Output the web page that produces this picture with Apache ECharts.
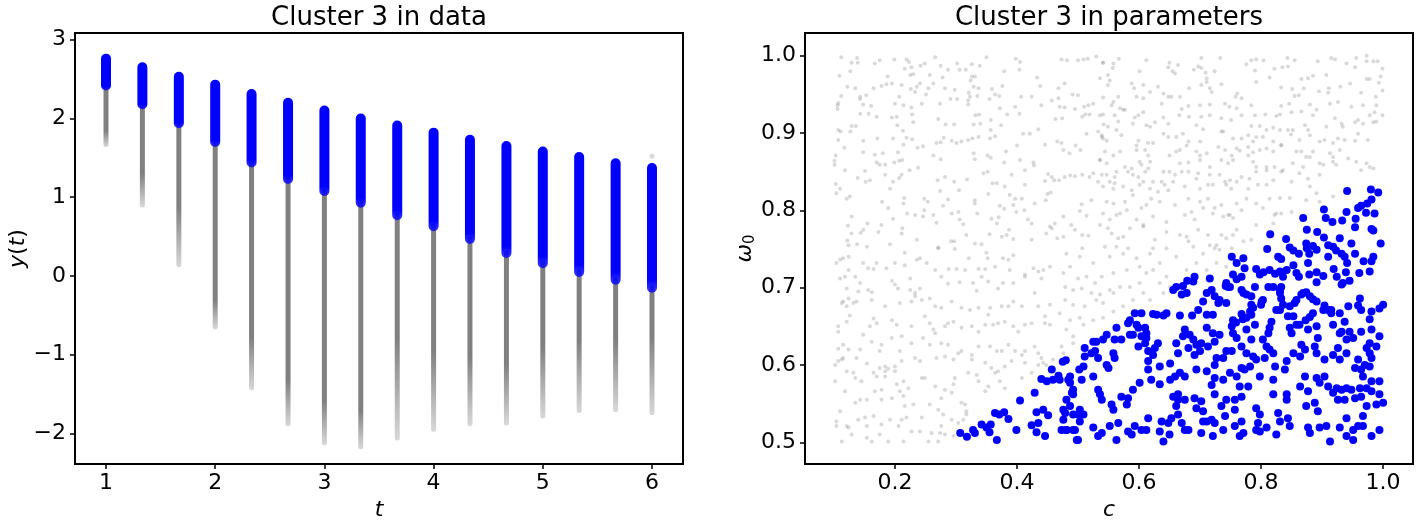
<!DOCTYPE html>
<html>
<head>
<meta charset="utf-8">
<script src="https://cdn.jsdelivr.net/npm/echarts@6/dist/echarts.min.js"></script>
<style>
  html, body { margin: 0; padding: 0; background: #fff; }
  #chart { width: 1424px; height: 526px; }
</style>
</head>
<body>
<div id="chart"></div>
<script>
// left panel: trajectories sampled at 16 time points
const tValues = [1, 1.333, 1.667, 2, 2.333, 2.667, 3, 3.333, 3.667, 4, 4.333, 4.667, 5, 5.333, 5.667, 6];
const clusterTop = [2.76, 2.65, 2.53, 2.43, 2.31, 2.20, 2.10, 2.00, 1.91, 1.82, 1.73, 1.65, 1.58, 1.51, 1.43, 1.37];
const clusterBottom = [2.42, 2.18, 1.94, 1.70, 1.44, 1.23, 1.08, 0.93, 0.77, 0.63, 0.47, 0.29, 0.16, 0.05, -0.05, -0.15];
const otherDenseEnd = [1.84, 1.30, 0.87, -0.31, -0.78, -1.33, -1.58, -1.71, -0.80, -0.95, -1.03, -1.12, -0.91, -0.82, -0.82, -0.78];
const otherMin = [1.67, 0.90, 0.14, -0.65, -1.42, -1.88, -2.12, -2.17, -2.06, -1.95, -1.88, -1.87, -1.78, -1.71, -1.70, -1.74];
const outliers = [[6, 1.52]];

const dataTicks = [1, 2, 3, 4, 5, 6];
const yTicks = [-2, -1, 0, 1, 2, 3];

// right panel: parameter space (c, omega0)
const otherParams = [
[0.112,0.998],[0.129,0.991],[0.138,0.997],[0.139,0.991],[0.167,0.990],[0.175,0.994],[0.199,0.995],[0.219,0.995],[0.223,0.992],[0.216,0.983],
[0.227,0.985],[0.242,0.987],[0.249,0.990],[0.266,0.998],[0.275,0.987],[0.287,0.982],[0.302,0.990],[0.306,0.982],[0.316,0.982],[0.326,0.989],
[0.339,0.987],[0.350,0.998],[0.379,0.980],[0.398,0.996],[0.405,0.992],[0.404,0.982],[0.433,0.972],[0.438,0.961],[0.473,0.995],[0.482,0.994],
[0.500,0.994],[0.509,0.995],[0.516,0.996],[0.530,0.999],[0.541,0.991],[0.109,0.974],[0.127,0.980],[0.188,0.973],[0.211,0.962],[0.225,0.975],
[0.230,0.976],[0.257,0.975],[0.278,0.972],[0.326,0.973],[0.331,0.973],[0.324,0.968],[0.122,0.960],[0.135,0.958],[0.165,0.958],[0.178,0.961],
[0.186,0.963],[0.195,0.964],[0.226,0.957],[0.236,0.960],[0.241,0.964],[0.255,0.958],[0.263,0.964],[0.282,0.958],[0.298,0.956],[0.329,0.960],
[0.337,0.958],[0.359,0.957],[0.376,0.961],[0.407,0.947],[0.424,0.947],[0.468,0.958],[0.478,0.964],[0.491,0.950],[0.500,0.949],[0.112,0.948],
[0.143,0.947],[0.153,0.949],[0.143,0.944],[0.207,0.947],[0.233,0.953],[0.251,0.950],[0.291,0.944],[0.302,0.944],[0.321,0.952],[0.323,0.947],
[0.320,0.942],[0.335,0.948],[0.364,0.950],[0.371,0.948],[0.107,0.939],[0.106,0.936],[0.106,0.931],[0.148,0.937],[0.161,0.935],[0.200,0.938],
[0.214,0.936],[0.227,0.933],[0.244,0.938],[0.274,0.938],[0.320,0.937],[0.355,0.944],[0.372,0.932],[0.397,0.934],[0.440,0.936],[0.457,0.942],
[0.468,0.945],[0.470,0.934],[0.478,0.933],[0.495,0.931],[0.510,0.934],[0.517,0.936],[0.525,0.938],[0.541,0.924],[0.143,0.925],[0.157,0.925],
[0.170,0.921],[0.195,0.920],[0.203,0.921],[0.228,0.924],[0.271,0.918],[0.332,0.923],[0.338,0.924],[0.357,0.917],[0.384,0.924],[0.404,0.925],
[0.463,0.918],[0.474,0.919],[0.507,0.921],[0.512,0.924],[0.519,0.924],[0.129,0.909],[0.136,0.909],[0.127,0.902],[0.107,0.904],[0.111,0.902],
[0.204,0.910],[0.213,0.903],[0.230,0.914],[0.283,0.911],[0.297,0.911],[0.329,0.911],[0.340,0.912],[0.357,0.904],[0.374,0.910],[0.410,0.899],
[0.421,0.899],[0.435,0.905],[0.514,0.899],[0.533,0.902],[0.539,0.895],[0.107,0.891],[0.148,0.890],[0.171,0.893],[0.197,0.893],[0.214,0.885],
[0.219,0.894],[0.228,0.892],[0.246,0.883],[0.268,0.887],[0.275,0.888],[0.280,0.894],[0.293,0.890],[0.301,0.887],[0.309,0.889],[0.320,0.891],
[0.327,0.893],[0.337,0.895],[0.356,0.893],[0.364,0.896],[0.400,0.884],[0.446,0.885],[0.466,0.889],[0.473,0.887],[0.476,0.878],[0.486,0.874],
[0.496,0.884],[0.504,0.878],[0.117,0.881],[0.148,0.875],[0.167,0.872],[0.180,0.874],[0.205,0.875],[0.237,0.881],[0.103,0.871],[0.101,0.864],
[0.101,0.859],[0.118,0.852],[0.139,0.842],[0.151,0.851],[0.170,0.862],[0.175,0.859],[0.184,0.859],[0.199,0.862],[0.207,0.864],[0.212,0.865],
[0.224,0.852],[0.238,0.855],[0.263,0.871],[0.275,0.866],[0.329,0.874],[0.331,0.866],[0.352,0.871],[0.357,0.868],[0.379,0.862],[0.382,0.876],
[0.405,0.865],[0.413,0.852],[0.427,0.862],[0.428,0.858],[0.451,0.847],[0.457,0.843],[0.478,0.843],[0.487,0.845],[0.495,0.844],[0.507,0.846],
[0.519,0.843],[0.525,0.848],[0.533,0.837],[0.536,0.865],[0.152,0.837],[0.159,0.839],[0.184,0.846],[0.197,0.837],[0.207,0.842],[0.211,0.846],
[0.270,0.839],[0.282,0.843],[0.297,0.837],[0.318,0.840],[0.345,0.848],[0.352,0.850],[0.360,0.835],[0.367,0.835],[0.380,0.831],[0.391,0.846],
[0.413,0.833],[0.446,0.838],[0.461,0.839],[0.469,0.839],[0.103,0.834],[0.110,0.828],[0.104,0.822],[0.121,0.815],[0.126,0.818],[0.179,0.811],
[0.192,0.828],[0.215,0.816],[0.214,0.809],[0.248,0.815],[0.254,0.811],[0.274,0.825],[0.287,0.814],[0.305,0.826],[0.331,0.813],[0.353,0.821],
[0.388,0.820],[0.397,0.815],[0.408,0.815],[0.429,0.809],[0.447,0.813],[0.450,0.821],[0.455,0.823],[0.506,0.808],[0.522,0.813],[0.129,0.792],
[0.123,0.780],[0.155,0.783],[0.178,0.781],[0.189,0.803],[0.197,0.789],[0.212,0.777],[0.220,0.796],[0.233,0.794],[0.246,0.792],[0.248,0.800],
[0.263,0.794],[0.268,0.784],[0.279,0.806],[0.293,0.796],[0.304,0.798],[0.306,0.788],[0.312,0.782],[0.331,0.809],[0.335,0.796],[0.358,0.789],
[0.367,0.783],[0.370,0.791],[0.372,0.806],[0.379,0.802],[0.383,0.768],[0.394,0.807],[0.399,0.798],[0.412,0.800],[0.418,0.788],[0.424,0.783],
[0.454,0.779],[0.462,0.783],[0.476,0.792],[0.489,0.781],[0.495,0.775],[0.503,0.799],[0.514,0.793],[0.536,0.781],[0.129,0.770],[0.144,0.771],
[0.148,0.775],[0.173,0.772],[0.211,0.770],[0.236,0.762],[0.292,0.760],[0.297,0.760],[0.317,0.768],[0.331,0.757],[0.342,0.756],[0.355,0.769],
[0.375,0.766],[0.387,0.775],[0.394,0.763],[0.424,0.762],[0.448,0.770],[0.457,0.777],[0.466,0.764],[0.476,0.766],[0.507,0.768],[0.517,0.767],
[0.122,0.761],[0.124,0.755],[0.138,0.756],[0.154,0.753],[0.192,0.756],[0.271,0.752],[0.507,0.751],
[0.541,0.991],[0.558,0.990],[0.567,0.996],[0.557,0.984],[0.549,0.975],[0.536,0.971],[0.601,0.980],[0.612,0.994],[0.650,0.991],[0.648,0.985],
[0.655,0.980],[0.659,0.977],[0.664,0.988],[0.690,0.982],[0.697,0.986],[0.702,0.984],[0.709,0.978],[0.702,0.997],[0.724,0.980],[0.733,0.997],
[0.711,0.971],[0.711,0.966],[0.735,0.963],[0.716,0.958],[0.776,0.989],[0.784,0.994],[0.792,0.995],[0.804,0.994],[0.790,0.981],[0.822,0.983],
[0.835,0.985],[0.844,0.986],[0.843,0.997],[0.855,0.994],[0.814,0.972],[0.866,0.970],[0.877,0.971],[0.885,0.974],[0.893,0.993],[0.907,0.975],
[0.915,0.997],[0.921,0.995],[0.940,0.990],[0.954,0.985],[0.956,0.997],[0.973,1.000],[0.973,0.993],[0.984,0.993],[0.991,0.993],[0.999,0.983],
[0.996,0.973],[0.993,0.965],[0.978,0.970],[0.986,0.927],[0.973,0.970],[0.552,0.968],[0.549,0.962],[0.588,0.964],[0.592,0.958],[0.607,0.962],
[0.631,0.960],[0.640,0.951],[0.653,0.947],[0.667,0.947],[0.682,0.958],[0.702,0.962],[0.719,0.953],[0.761,0.951],[0.758,0.947],[0.768,0.945],
[0.792,0.966],[0.833,0.959],[0.851,0.957],[0.862,0.949],[0.855,0.948],[0.870,0.958],[0.895,0.954],[0.911,0.958],[0.910,0.952],[0.930,0.960],
[0.946,0.964],[0.964,0.952],[0.988,0.947],[0.999,0.955],[0.541,0.946],[0.566,0.947],[0.558,0.940],[0.555,0.936],[0.569,0.932],[0.574,0.930],
[0.596,0.947],[0.607,0.945],[0.618,0.953],[0.637,0.938],[0.648,0.947],[0.670,0.931],[0.681,0.935],[0.700,0.936],[0.716,0.937],[0.741,0.938],
[0.748,0.934],[0.760,0.932],[0.784,0.936],[0.833,0.935],[0.846,0.938],[0.880,0.937],[0.891,0.930],[0.913,0.938],[0.926,0.940],[0.948,0.934],
[0.967,0.936],[0.989,0.936],[0.999,0.923],[0.536,0.923],[0.560,0.923],[0.566,0.915],[0.577,0.930],[0.599,0.923],[0.593,0.920],[0.607,0.927],
[0.626,0.914],[0.640,0.920],[0.666,0.923],[0.682,0.921],[0.702,0.921],[0.716,0.923],[0.735,0.919],[0.751,0.917],[0.768,0.923],[0.790,0.923],
[0.807,0.924],[0.825,0.922],[0.831,0.924],[0.850,0.927],[0.866,0.928],[0.885,0.923],[0.921,0.919],[0.932,0.912],[0.954,0.914],[0.959,0.917],
[0.967,0.912],[0.978,0.923],[0.989,0.915],[0.984,0.914],[0.542,0.911],[0.549,0.908],[0.563,0.904],[0.590,0.912],[0.612,0.910],[0.618,0.908],
[0.648,0.912],[0.694,0.910],[0.705,0.905],[0.735,0.902],[0.784,0.909],[0.798,0.909],[0.809,0.904],[0.820,0.907],[0.831,0.904],[0.844,0.904],
[0.852,0.904],[0.872,0.910],[0.877,0.904],[0.907,0.908],[0.934,0.908],[0.959,0.899],[0.539,0.897],[0.541,0.893],[0.547,0.890],[0.571,0.897],
[0.599,0.890],[0.596,0.884],[0.615,0.887],[0.623,0.887],[0.640,0.899],[0.648,0.895],[0.661,0.895],[0.672,0.899],[0.681,0.889],[0.700,0.889],
[0.738,0.902],[0.754,0.893],[0.768,0.893],[0.779,0.897],[0.787,0.889],[0.792,0.895],[0.803,0.895],[0.820,0.889],[0.833,0.885],[0.849,0.898],
[0.863,0.891],[0.880,0.897],[0.896,0.889],[0.904,0.891],[0.918,0.887],[0.926,0.893],[0.937,0.891],[0.954,0.890],[0.975,0.891],[0.544,0.876],
[0.558,0.871],[0.569,0.876],[0.596,0.878],[0.610,0.878],[0.615,0.871],[0.650,0.871],[0.661,0.876],[0.667,0.878],[0.678,0.884],[0.694,0.876],
[0.700,0.871],[0.711,0.874],[0.730,0.882],[0.741,0.878],[0.752,0.871],[0.760,0.880],[0.765,0.877],[0.779,0.882],[0.787,0.875],[0.798,0.878],
[0.809,0.880],[0.820,0.876],[0.833,0.884],[0.858,0.876],[0.866,0.876],[0.874,0.869],[0.885,0.876],[0.896,0.861],[0.913,0.874],[0.918,0.869],
[0.929,0.878],[0.536,0.865],[0.547,0.861],[0.577,0.856],[0.588,0.854],[0.601,0.863],[0.604,0.859],[0.615,0.854],[0.618,0.863],[0.640,0.850],
[0.650,0.850],[0.667,0.861],[0.681,0.862],[0.700,0.865],[0.716,0.856],[0.735,0.865],[0.746,0.861],[0.754,0.865],[0.779,0.871],[0.787,0.863],
[0.792,0.856],[0.809,0.856],[0.822,0.856],[0.836,0.852],[0.852,0.861],[0.869,0.856],[0.880,0.869],[0.902,0.859],[0.918,0.863],[0.923,0.859],
[0.943,0.867],[0.956,0.863],[0.973,0.861],[0.978,0.856],[0.964,0.852],[0.984,0.854],[0.539,0.846],[0.547,0.846],[0.552,0.837],[0.560,0.843],
[0.563,0.850],[0.582,0.850],[0.590,0.846],[0.599,0.843],[0.610,0.850],[0.607,0.837],[0.623,0.837],[0.637,0.837],[0.642,0.833],[0.659,0.846],
[0.670,0.850],[0.681,0.850],[0.694,0.841],[0.697,0.848],[0.716,0.846],[0.732,0.846],[0.741,0.837],[0.749,0.839],[0.760,0.837],[0.768,0.843],
[0.781,0.841],[0.792,0.850],[0.809,0.852],[0.820,0.839],[0.833,0.850],[0.850,0.837],[0.863,0.848],[0.877,0.841],[0.896,0.846],[0.541,0.831],
[0.560,0.835],[0.558,0.828],[0.574,0.831],[0.588,0.826],[0.601,0.833],[0.618,0.828],[0.631,0.824],[0.648,0.826],[0.656,0.837],[0.675,0.831],
[0.700,0.828],[0.713,0.833],[0.721,0.833],[0.743,0.833],[0.751,0.828],[0.779,0.828],[0.795,0.833],[0.809,0.833],[0.880,0.831],[0.891,0.822],
[0.547,0.811],[0.558,0.809],[0.577,0.811],[0.590,0.820],[0.604,0.803],[0.612,0.807],[0.620,0.815],[0.634,0.811],[0.659,0.807],[0.681,0.815],
[0.700,0.811],[0.713,0.815],[0.724,0.803],[0.735,0.807],[0.749,0.794],[0.760,0.809],[0.776,0.815],[0.792,0.809],[0.814,0.815],[0.831,0.816],
[0.847,0.816],[0.874,0.813],[0.896,0.811],[0.918,0.818],[0.541,0.796],[0.552,0.788],[0.563,0.794],[0.569,0.796],[0.580,0.800],[0.596,0.788],
[0.607,0.781],[0.623,0.792],[0.645,0.785],[0.675,0.794],[0.686,0.798],[0.691,0.788],[0.705,0.803],[0.721,0.796],[0.738,0.792],[0.746,0.794],
[0.754,0.790],[0.768,0.800],[0.803,0.803],[0.822,0.794],[0.833,0.796],[0.850,0.798],[0.549,0.777],[0.555,0.770],[0.566,0.764],[0.574,0.766],
[0.585,0.777],[0.607,0.779],[0.626,0.762],[0.645,0.772],[0.667,0.768],[0.678,0.766],[0.681,0.760],[0.697,0.775],[0.713,0.768],[0.727,0.755],
[0.735,0.768],[0.743,0.764],[0.754,0.768],[0.760,0.775],[0.771,0.760],[0.784,0.762],[0.544,0.753],[0.563,0.753],[0.582,0.751],[0.623,0.751],
[0.645,0.751],[0.689,0.753],[0.716,0.755],[0.724,0.751],[0.752,0.751],[0.792,0.781],[0.820,0.783],[0.825,0.796],
[0.110,0.736],[0.115,0.738],[0.124,0.740],[0.104,0.732],[0.124,0.723],[0.148,0.732],[0.156,0.725],[0.165,0.724],[0.170,0.732],[0.186,0.725],
[0.200,0.732],[0.216,0.745],[0.216,0.729],[0.236,0.736],[0.241,0.738],[0.252,0.732],[0.266,0.723],[0.271,0.751],[0.298,0.750],[0.288,0.724],
[0.301,0.724],[0.315,0.723],[0.321,0.738],[0.337,0.724],[0.348,0.724],[0.350,0.745],[0.352,0.738],[0.364,0.727],[0.377,0.738],[0.386,0.736],
[0.394,0.742],[0.388,0.723],[0.413,0.717],[0.427,0.725],[0.435,0.721],[0.443,0.723],[0.110,0.712],[0.118,0.714],[0.121,0.699],[0.135,0.714],
[0.143,0.706],[0.140,0.695],[0.156,0.697],[0.162,0.694],[0.195,0.709],[0.200,0.704],[0.205,0.699],[0.225,0.712],[0.225,0.697],[0.233,0.693],
[0.241,0.699],[0.257,0.686],[0.276,0.714],[0.287,0.705],[0.306,0.707],[0.328,0.706],[0.334,0.696],[0.342,0.714],[0.353,0.708],[0.369,0.699],
[0.377,0.706],[0.394,0.706],[0.413,0.714],[0.440,0.712],[0.454,0.727],[0.429,0.693],[0.113,0.680],[0.121,0.676],[0.124,0.686],[0.115,0.682],
[0.132,0.680],[0.137,0.682],[0.162,0.684],[0.184,0.676],[0.208,0.680],[0.227,0.682],[0.233,0.689],[0.244,0.684],[0.266,0.676],[0.276,0.674],
[0.293,0.682],[0.309,0.674],[0.323,0.671],[0.337,0.674],[0.356,0.674],[0.375,0.676],[0.386,0.676],[0.394,0.682],[0.408,0.676],[0.435,0.676],
[0.446,0.663],[0.454,0.678],[0.107,0.650],[0.107,0.643],[0.121,0.656],[0.126,0.664],[0.159,0.650],[0.165,0.660],[0.170,0.654],[0.195,0.658],
[0.203,0.652],[0.227,0.650],[0.249,0.663],[0.257,0.654],[0.263,0.646],[0.266,0.641],[0.282,0.650],[0.287,0.654],[0.296,0.656],[0.309,0.648],
[0.326,0.650],[0.337,0.643],[0.348,0.652],[0.353,0.665],[0.361,0.652],[0.369,0.654],[0.380,0.656],[0.394,0.650],[0.402,0.643],[0.413,0.652],
[0.424,0.654],[0.446,0.654],[0.454,0.652],[0.107,0.621],[0.113,0.607],[0.115,0.626],[0.124,0.620],[0.143,0.620],[0.148,0.639],[0.162,0.630],
[0.175,0.618],[0.178,0.626],[0.195,0.635],[0.211,0.637],[0.208,0.618],[0.227,0.628],[0.246,0.635],[0.257,0.626],[0.276,0.628],[0.287,0.626],
[0.304,0.615],[0.309,0.618],[0.326,0.613],[0.337,0.624],[0.356,0.624],[0.367,0.618],[0.375,0.618],[0.386,0.626],[0.397,0.618],[0.413,0.618],
[0.429,0.624],[0.435,0.615],[0.440,0.609],[0.459,0.607],[0.102,0.600],[0.107,0.605],[0.115,0.609],[0.137,0.609],[0.154,0.602],[0.175,0.596],
[0.184,0.592],[0.200,0.598],[0.211,0.605],[0.233,0.609],[0.241,0.605],[0.268,0.609],[0.282,0.611],[0.296,0.607],[0.326,0.607],[0.348,0.603],
[0.358,0.596],[0.369,0.592],[0.380,0.598],[0.391,0.605],[0.408,0.613],[0.413,0.603],[0.435,0.600],[0.443,0.603],[0.448,0.600],[0.102,0.579],
[0.118,0.566],[0.121,0.592],[0.132,0.590],[0.135,0.583],[0.145,0.579],[0.165,0.590],[0.170,0.585],[0.184,0.598],[0.189,0.595],[0.184,0.585],
[0.200,0.592],[0.214,0.579],[0.222,0.570],[0.244,0.583],[0.249,0.583],[0.266,0.572],[0.282,0.568],[0.296,0.575],[0.298,0.583],[0.320,0.590],
[0.334,0.587],[0.337,0.579],[0.353,0.572],[0.364,0.590],[0.372,0.579],[0.380,0.570],[0.408,0.583],[0.424,0.590],[0.104,0.527],[0.110,0.540],
[0.121,0.521],[0.135,0.551],[0.143,0.555],[0.154,0.555],[0.167,0.566],[0.178,0.555],[0.178,0.568],[0.195,0.557],[0.203,0.575],[0.208,0.566],
[0.214,0.560],[0.216,0.547],[0.230,0.549],[0.257,0.549],[0.271,0.542],[0.276,0.557],[0.293,0.564],[0.309,0.551],[0.315,0.549],[0.317,0.540],
[0.293,0.529],[0.304,0.525],[0.312,0.529],[0.317,0.536],[0.348,0.566],[0.104,0.521],[0.124,0.519],[0.140,0.529],[0.154,0.521],[0.151,0.532],
[0.165,0.534],[0.178,0.523],[0.192,0.529],[0.206,0.521],[0.211,0.529],[0.219,0.532],[0.227,0.514],[0.244,0.532],[0.260,0.512],[0.274,0.512],
[0.276,0.521],[0.279,0.536],[0.113,0.501],[0.129,0.510],[0.154,0.506],[0.162,0.501],[0.175,0.510],[0.189,0.501],[0.214,0.501],[0.241,0.514],
[0.255,0.501],[0.271,0.501],[0.296,0.508],[0.282,0.510],
[0.476,0.719],[0.487,0.727],[0.500,0.712],[0.514,0.714],[0.528,0.706],[0.539,0.714],[0.479,0.701],[0.492,0.697],[0.506,0.699],[0.522,0.693],
[0.536,0.691],[0.552,0.697],[0.479,0.684],[0.492,0.678],[0.511,0.676],[0.530,0.684],[0.541,0.680],[0.558,0.693],[0.569,0.701],[0.585,0.701],
[0.601,0.706],[0.612,0.719],[0.623,0.723],[0.634,0.706],[0.645,0.714],[0.601,0.727],[0.634,0.732],[0.580,0.723],[0.558,0.719],[0.470,0.667],
[0.487,0.658],[0.503,0.661],[0.481,0.646],[0.492,0.637],[0.509,0.652],[0.525,0.658],[0.541,0.661],[0.558,0.669],[0.574,0.676],[0.590,0.684],
[0.607,0.693],[0.618,0.684],[0.640,0.693],[0.651,0.701],[0.678,0.723],[0.694,0.732],[0.711,0.723],[0.727,0.732],[0.743,0.727],[0.705,0.744],
[0.732,0.749],[0.473,0.624],[0.476,0.615],[0.492,0.628],[0.481,0.744],[0.503,0.740],[0.525,0.732],[0.552,0.740],[0.574,0.744],[0.596,0.738],
[0.618,0.744],[0.661,0.740]
];

const clusterParams = [
[0.941,0.825],[0.980,0.827],[0.992,0.823],[0.981,0.814],[0.974,0.809],[0.964,0.806],[0.959,0.803],[0.972,0.797],[0.986,0.796],[0.903,0.801],
[0.906,0.790],[0.940,0.798],[0.933,0.787],[0.917,0.785],[0.955,0.789],[0.954,0.778],[0.869,0.790],[0.875,0.775],[0.892,0.772],[0.903,0.765],
[0.929,0.764],[0.948,0.757],[0.996,0.757],[0.981,0.776],[0.984,0.774],[0.815,0.769],[0.841,0.763],[0.847,0.752],[0.853,0.748],[0.862,0.744],
[0.874,0.757],[0.875,0.751],[0.879,0.744],[0.885,0.754],[0.891,0.749],[0.910,0.755],[0.910,0.740],[0.918,0.753],[0.923,0.748],[0.932,0.744],
[0.937,0.740],[0.941,0.732],[0.954,0.744],[0.984,0.740],[0.981,0.734],[0.968,0.734],[0.810,0.750],[0.828,0.740],[0.833,0.737],[0.752,0.740],
[0.771,0.738],[0.760,0.732],[0.773,0.725],[0.754,0.717],[0.760,0.711],[0.768,0.714],[0.792,0.724],[0.798,0.717],[0.804,0.720],[0.814,0.723],
[0.823,0.718],[0.831,0.721],[0.836,0.714],[0.842,0.723],[0.853,0.729],[0.858,0.719],[0.862,0.714],[0.877,0.732],[0.879,0.717],[0.891,0.720],
[0.902,0.715],[0.891,0.707],[0.919,0.724],[0.924,0.714],[0.939,0.720],[0.945,0.709],[0.932,0.704],[0.961,0.719],[0.978,0.721],[0.743,0.706],
[0.742,0.702],[0.746,0.701],[0.716,0.712],[0.691,0.714],[0.689,0.708],[0.679,0.709],[0.672,0.702],[0.661,0.701],[0.656,0.697],[0.670,0.691],
[0.678,0.693],[0.711,0.693],[0.719,0.697],[0.724,0.689],[0.732,0.684],[0.743,0.680],[0.705,0.682],[0.784,0.689],[0.771,0.693],[0.768,0.697],
[0.831,0.693],[0.833,0.686],[0.820,0.701],[0.858,0.684],[0.866,0.691],[0.874,0.694],[0.880,0.689],[0.885,0.685],[0.891,0.682],[0.904,0.677],
[0.910,0.671],[0.915,0.667],[0.885,0.667],[0.880,0.662],[0.873,0.658],[0.863,0.652],[0.853,0.663],[0.844,0.663],[0.836,0.678],[0.831,0.671],
[0.801,0.682],[0.800,0.678],[0.784,0.678],[0.782,0.669],[0.784,0.665],[0.787,0.674],[0.754,0.658],[0.759,0.655],[0.770,0.659],[0.768,0.666],
[0.776,0.661],[0.721,0.665],[0.687,0.664],[0.667,0.664],[0.645,0.667],[0.640,0.664],[0.629,0.665],[0.623,0.666],[0.604,0.667],[0.593,0.667],
[0.585,0.658],[0.582,0.654],[0.596,0.652],[0.599,0.648],[0.610,0.648],[0.612,0.641],[0.604,0.637],[0.590,0.639],[0.585,0.639],[0.563,0.648],
[0.547,0.639],[0.541,0.633],[0.530,0.630],[0.525,0.630],[0.528,0.618],[0.511,0.622],[0.511,0.611],[0.522,0.615],[0.533,0.609],[0.547,0.600],
[0.550,0.596],[0.560,0.609],[0.558,0.615],[0.560,0.633],[0.571,0.633],[0.599,0.624],[0.610,0.628],[0.612,0.635],[0.615,0.618],[0.626,0.622],
[0.631,0.628],[0.623,0.613],[0.615,0.605],[0.615,0.594],[0.634,0.598],[0.651,0.602],[0.664,0.615],[0.661,0.628],[0.672,0.637],[0.675,0.646],
[0.683,0.639],[0.689,0.633],[0.694,0.626],[0.681,0.622],[0.691,0.613],[0.700,0.618],[0.702,0.628],[0.711,0.648],[0.721,0.641],[0.724,0.630],
[0.732,0.639],[0.713,0.624],[0.727,0.609],[0.738,0.609],[0.724,0.600],[0.711,0.592],[0.694,0.594],[0.667,0.590],[0.659,0.585],[0.675,0.585],
[0.651,0.581],[0.634,0.575],[0.620,0.581],[0.601,0.577],[0.590,0.568],[0.582,0.557],[0.571,0.559],[0.580,0.549],[0.558,0.542],[0.555,0.549],
[0.539,0.555],[0.536,0.562],[0.533,0.568],[0.525,0.585],[0.509,0.598],[0.506,0.581],[0.492,0.562],[0.487,0.547],[0.503,0.542],[0.509,0.536],
[0.503,0.527],[0.492,0.516],[0.500,0.503],[0.481,0.516],[0.476,0.542],[0.476,0.529],[0.525,0.519],[0.533,0.508],[0.539,0.512],[0.552,0.521],
[0.566,0.525],[0.563,0.503],[0.582,0.514],[0.588,0.510],[0.593,0.521],[0.604,0.516],[0.612,0.516],[0.615,0.531],[0.634,0.514],[0.637,0.527],
[0.640,0.501],[0.650,0.510],[0.653,0.531],[0.648,0.525],[0.664,0.536],[0.670,0.525],[0.675,0.516],[0.681,0.516],[0.661,0.547],[0.656,0.559],
[0.664,0.562],[0.664,0.555],[0.675,0.555],[0.691,0.557],[0.694,0.544],[0.702,0.553],[0.705,0.540],[0.705,0.527],[0.711,0.527],[0.719,0.529],
[0.724,0.525],[0.702,0.512],[0.721,0.508],[0.738,0.516],[0.741,0.534],[0.735,0.547],[0.743,0.555],[0.724,0.562],[0.719,0.574],[0.724,0.583],
[0.738,0.581],[0.749,0.590],[0.760,0.585],[0.765,0.572],[0.779,0.572],[0.768,0.559],[0.757,0.555],[0.757,0.542],[0.768,0.527],[0.757,0.521],
[0.771,0.512],[0.765,0.508],[0.792,0.544],[0.798,0.536],[0.795,0.525],[0.792,0.516],[0.798,0.514],[0.809,0.519],[0.825,0.510],[0.828,0.538],
[0.831,0.527],[0.844,0.531],[0.847,0.521],[0.842,0.555],[0.842,0.562],[0.820,0.562],[0.820,0.581],[0.823,0.598],[0.839,0.594],[0.842,0.605],
[0.853,0.615],[0.864,0.611],[0.872,0.585],[0.864,0.572],[0.877,0.566],[0.874,0.547],[0.888,0.551],[0.893,0.540],[0.877,0.519],[0.880,0.512],
[0.896,0.519],[0.907,0.521],[0.913,0.501],[0.929,0.519],[0.940,0.508],[0.940,0.531],[0.951,0.516],[0.959,0.521],[0.951,0.503],[0.967,0.521],
[0.981,0.508],[0.994,0.516],[0.967,0.534],[0.973,0.547],[0.989,0.549],[1.000,0.551],[0.994,0.562],[0.981,0.566],[0.964,0.559],[0.954,0.557],
[0.948,0.568],[0.937,0.555],[0.926,0.555],[0.924,0.570],[0.918,0.564],[0.910,0.572],[0.904,0.585],[0.896,0.577],[0.891,0.583],[0.904,0.607],
[0.891,0.615],[0.888,0.624],[0.893,0.635],[0.918,0.613],[0.929,0.607],[0.926,0.622],[0.940,0.615],[0.929,0.641],[0.940,0.633],[0.932,0.643],
[0.951,0.635],[0.945,0.643],[0.937,0.656],[0.929,0.667],[0.943,0.676],[0.959,0.677],[0.964,0.671],[0.978,0.659],[0.981,0.669],[0.981,0.646],
[0.964,0.643],[0.994,0.637],[0.994,0.673],[1.000,0.678],[0.978,0.628],[0.989,0.624],[0.973,0.622],[0.978,0.615],[0.981,0.609],[0.959,0.607],
[0.954,0.596],[0.964,0.594],[0.970,0.600],[0.978,0.598],[0.967,0.585],[0.994,0.579],[0.981,0.579],[0.973,0.570],[0.962,0.570],[0.940,0.570],
[0.932,0.568],[0.803,0.633],[0.809,0.624],[0.814,0.620],[0.806,0.609],[0.792,0.607],[0.787,0.611],[0.776,0.615],[0.768,0.624],[0.752,0.618],
[0.743,0.618],[0.768,0.596],[0.773,0.594],[0.782,0.598],[0.798,0.585],[0.820,0.615],[0.784,0.633],[0.812,0.641],[0.814,0.648],[0.817,0.656],
[0.790,0.652],[0.776,0.646],[0.760,0.635],[0.754,0.641],[0.752,0.650],[0.803,0.684],[0.825,0.671],[0.847,0.676],[0.855,0.680],[0.869,0.693],
[0.866,0.626],[0.872,0.620],[0.850,0.641],[0.847,0.648],[0.858,0.652],[0.877,0.646],[0.891,0.650],[0.902,0.671],[0.915,0.671],[0.918,0.652],
[0.934,0.706],[0.962,0.686],[0.831,0.697],[0.833,0.701],[0.790,0.701],[0.776,0.691],[0.812,0.701],[0.697,0.671],[0.711,0.665],[0.730,0.680],
[0.749,0.701],
[0.307,0.512],[0.318,0.507],[0.328,0.516],[0.331,0.512],[0.342,0.523],[0.350,0.519],[0.355,0.513],[0.357,0.523],[0.364,0.538],[0.367,0.503],
[0.371,0.536],[0.379,0.539],[0.386,0.530],[0.399,0.516],[0.405,0.554],[0.424,0.522],[0.429,0.564],[0.432,0.539],[0.432,0.513],[0.435,0.525],
[0.440,0.582],[0.443,0.542],[0.446,0.508],[0.449,0.579],[0.451,0.535],[0.457,0.594],[0.459,0.581],[0.468,0.586],[0.470,0.581],[0.473,0.516],
[0.475,0.604],[0.479,0.538],[0.480,0.606],[0.481,0.555],[0.481,0.516],[0.484,0.581],[0.487,0.585],[0.487,0.577],[0.490,0.564],[0.492,0.536],
[0.492,0.568],[0.495,0.516],[0.498,0.503],[0.500,0.536],[0.502,0.594]
];

const paramXTicks = [0.2, 0.4, 0.6, 0.8, 1.0];
const paramYTicks = [0.5, 0.6, 0.7, 0.8, 0.9, 1.0];

const chart = echarts.init(document.getElementById('chart'));
const FONT = 'DejaVu Sans';

const minusFmt = (v) => (v < 0 ? '\u2212' + Math.abs(v) : String(v));

const axisCommon = {
  axisLine: { show: true, onZero: false, lineStyle: { color: '#000', width: 2 } },
  axisTick: { show: true, inside: false, length: 5, lineStyle: { color: '#000', width: 1.5 } },
  splitLine: { show: false },
};

// draws a vertical band (a column of overlapping markers) between two values
function bandItem(width, fillFn) {
  return function (params, api) {
    const t = api.value(0);
    const top = api.coord([t, api.value(1)]);
    const bot = api.coord([t, api.value(2)]);
    const h = bot[1] - top[1];
    return {
      type: 'rect',
      shape: { x: top[0] - width / 2, y: top[1] - width / 2, width: width, height: h + width, r: width / 2 },
      style: { fill: fillFn(api, top, bot) },
    };
  };
}

const grayBand = tValues.map((t, i) => [t, clusterBottom[i], otherMin[i], otherDenseEnd[i]]);
const blueBand = tValues.map((t, i) => [t, clusterTop[i], clusterBottom[i]]);

chart.setOption({
  animation: false,
  graphic: [
    { type: 'text', x: 379, y: 18, style: { text: 'Cluster 3 in data', font: '26px "DejaVu Sans"', fill: '#000', align: 'center', verticalAlign: 'middle' } },
    { type: 'text', x: 1109, y: 18, style: { text: 'Cluster 3 in parameters', font: '26px "DejaVu Sans"', fill: '#000', align: 'center', verticalAlign: 'middle' } },
  ],
  grid: [
    { left: 75, right: 741, top: 33, bottom: 62, show: true, borderColor: '#000', borderWidth: 2, backgroundColor: '#fff' },
    { left: 805, right: 11, top: 33, bottom: 62, show: true, borderColor: '#000', borderWidth: 2, backgroundColor: '#fff' },
  ],
  xAxis: [
    {
      ...axisCommon, type: 'value', gridIndex: 0, min: 0.716, max: 6.284,
      axisTick: { ...axisCommon.axisTick, customValues: dataTicks },
      axisLabel: { customValues: dataTicks, color: '#000', fontFamily: FONT, fontSize: 22, margin: 8 },
      name: 't', nameLocation: 'middle', nameGap: 28,
      nameTextStyle: { fontFamily: FONT, fontSize: 22, fontStyle: 'italic', color: '#000' },
    },
    {
      ...axisCommon, type: 'value', gridIndex: 1, min: 0.0526, max: 1.049,
      axisTick: { ...axisCommon.axisTick, customValues: paramXTicks },
      axisLabel: { customValues: paramXTicks, color: '#000', fontFamily: FONT, fontSize: 22, margin: 8, formatter: (v) => v.toFixed(1) },
      name: 'c', nameLocation: 'middle', nameGap: 28,
      nameTextStyle: { fontFamily: FONT, fontSize: 22, fontStyle: 'italic', color: '#000' },
    },
  ],
  yAxis: [
    {
      ...axisCommon, type: 'value', gridIndex: 0, min: -2.39, max: 3.086,
      axisTick: { ...axisCommon.axisTick, customValues: yTicks },
      axisLabel: { customValues: yTicks, color: '#000', fontFamily: FONT, fontSize: 22, margin: 9, formatter: minusFmt },
      name: '{i|y}{n|(}{i|t}{n|)}', nameLocation: 'middle', nameGap: 44,
      nameTextStyle: {
        color: '#000',
        rich: {
          i: { fontFamily: FONT, fontSize: 22, fontStyle: 'italic', color: '#000' },
          n: { fontFamily: FONT, fontSize: 22, color: '#000' },
        },
      },
    },
    {
      ...axisCommon, type: 'value', gridIndex: 1, min: 0.4719, max: 1.0294,
      axisTick: { ...axisCommon.axisTick, customValues: paramYTicks },
      axisLabel: { customValues: paramYTicks, color: '#000', fontFamily: FONT, fontSize: 22, margin: 9, formatter: (v) => v.toFixed(1) },
      name: '{w|ω}{s|0}', nameLocation: 'middle', nameGap: 46,
      nameTextStyle: {
        color: '#000',
        rich: {
          w: { fontFamily: FONT, fontSize: 22, fontStyle: 'italic', color: '#000' },
          s: { fontFamily: FONT, fontSize: 15, color: '#000', verticalAlign: 'bottom', padding: [8, 0, 0, 0] },
        },
      },
    },
  ],
  series: [
    {
      type: 'custom', xAxisIndex: 0, yAxisIndex: 0,
      data: grayBand,
      renderItem: bandItem(5, (api, top, bot) => {
        const dense = api.coord([api.value(0), api.value(3)]);
        const span = (bot[1] - top[1]) + 5;
        const f = Math.max(0, Math.min(1, (dense[1] - top[1] + 2.5) / span));
        return {
          type: 'linear', x: 0, y: 0, x2: 0, y2: 1,
          colorStops: [
            { offset: 0, color: '#808080' },
            { offset: f, color: '#808080' },
            { offset: 1, color: 'rgba(128,128,128,0.3)' },
          ],
        };
      }),
    },
    {
      type: 'scatter', xAxisIndex: 0, yAxisIndex: 0,
      data: outliers, symbolSize: 5,
      itemStyle: { color: 'rgba(128,128,128,0.3)', opacity: 1 },
    },
    {
      type: 'custom', xAxisIndex: 0, yAxisIndex: 0,
      data: blueBand,
      renderItem: bandItem(10, () => ({
        type: 'linear', x: 0, y: 0, x2: 0, y2: 1,
        colorStops: [
          { offset: 0, color: '#0000ff' },
          { offset: 0.9, color: '#0000ff' },
          { offset: 1, color: 'rgba(0,0,255,0.75)' },
        ],
      })),
    },
    {
      type: 'scatter', xAxisIndex: 1, yAxisIndex: 1,
      data: otherParams, symbolSize: 4,
      itemStyle: { color: 'rgba(128,128,128,0.3)', opacity: 1 },
    },
    {
      type: 'scatter', xAxisIndex: 1, yAxisIndex: 1,
      data: clusterParams, symbolSize: 8,
      itemStyle: { color: '#0000ff', opacity: 1 },
    },
  ],
});
</script>
</body>
</html>
